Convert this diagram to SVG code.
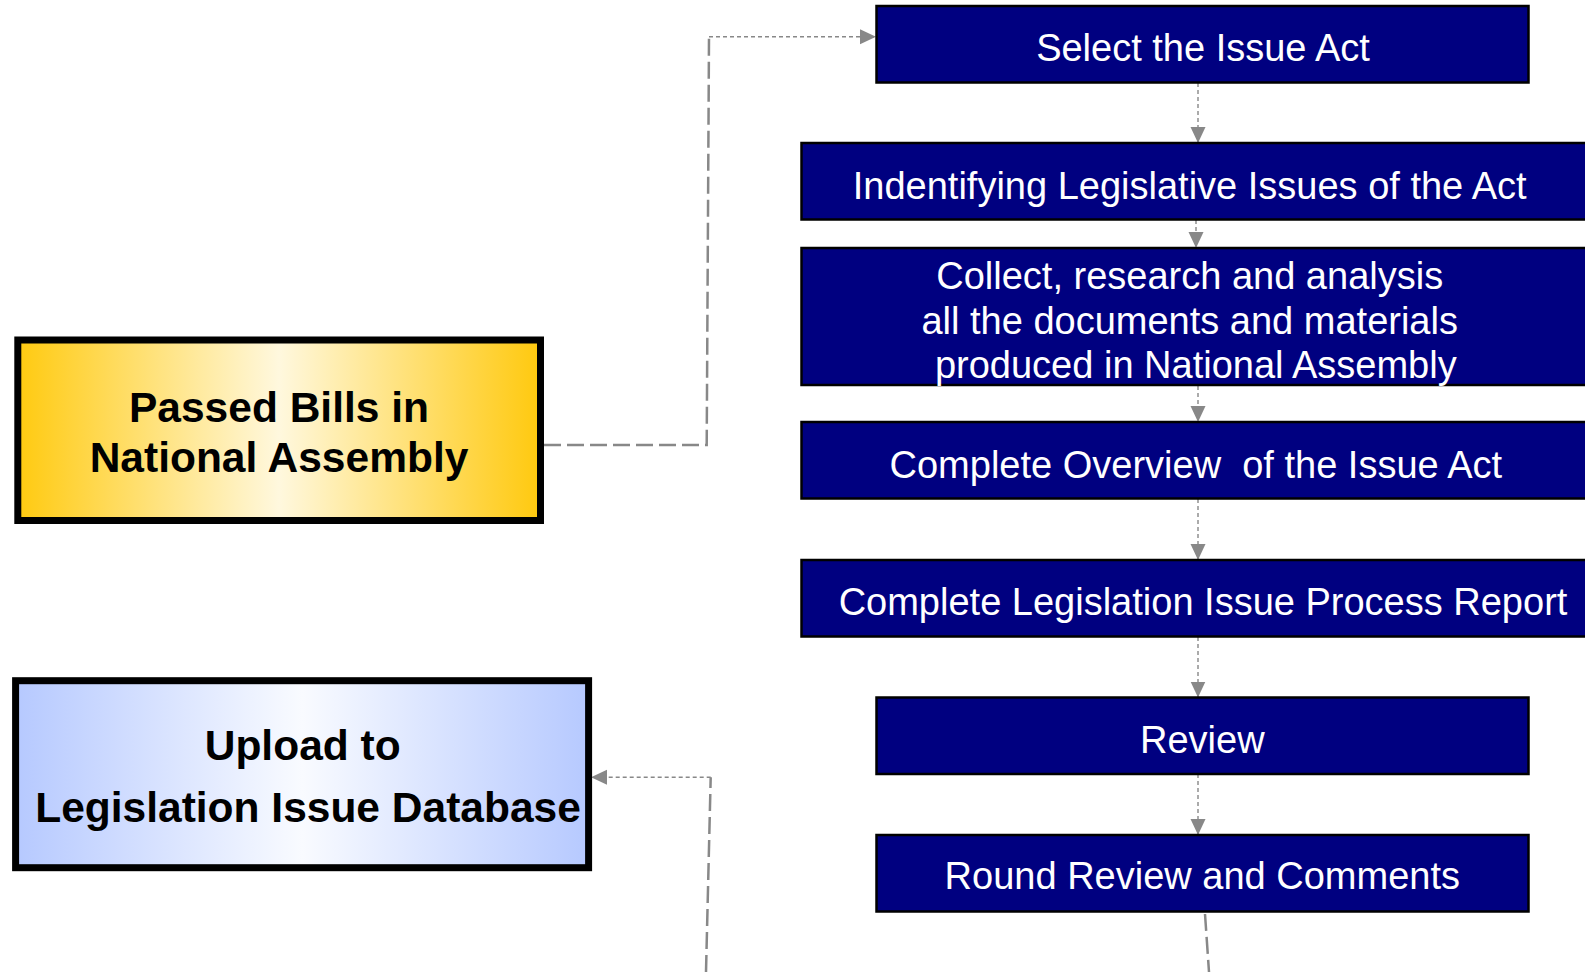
<svg xmlns="http://www.w3.org/2000/svg" width="1585" height="972" viewBox="0 0 1585 972">
<style>
.step{fill:#000080;stroke:#000;stroke-width:2.5}
.st{font-family:"Liberation Sans",Arial,sans-serif;font-size:38px;fill:#fff;text-anchor:middle}
.big{fill:none;stroke:#000;stroke-width:7}
.bt{font-family:"Liberation Sans",Arial,sans-serif;font-size:42.5px;font-weight:bold;fill:#000;text-anchor:middle}
.fine{fill:none;stroke:#888;stroke-width:1.4;stroke-dasharray:4 3}
.long{fill:none;stroke:#888;stroke-width:2.5;stroke-dasharray:17 6}
</style>
<defs>
<linearGradient id="gold" x1="0" y1="0" x2="1" y2="0">
<stop offset="0" stop-color="#FFCA10"/>
<stop offset="0.5" stop-color="#FFF8DE"/>
<stop offset="1" stop-color="#FFC90E"/>
</linearGradient>
<linearGradient id="blue" x1="0" y1="0" x2="1" y2="0">
<stop offset="0" stop-color="#B6C9FF"/>
<stop offset="0.5" stop-color="#F9FBFF"/>
<stop offset="1" stop-color="#B6C9FF"/>
</linearGradient>
<marker id="arr" markerUnits="userSpaceOnUse" markerWidth="17" markerHeight="16" refX="16" refY="7.5" orient="auto">
<path d="M0,0 L16,7.5 L0,15 z" fill="#888"/>
</marker>
</defs>
<rect width="1585" height="972" fill="#fff"/>

<g id="connectors">
<path class="long" d="M544,445 L706.7,445 L709,36.7"/>
<path class="fine" d="M709,36.7 L876,36.7" marker-end="url(#arr)"/>
<line class="fine" x1="1198" y1="83" x2="1198" y2="143" marker-end="url(#arr)"/>
<line class="fine" x1="1196" y1="220" x2="1196" y2="248" marker-end="url(#arr)"/>
<line class="fine" x1="1198" y1="372" x2="1198" y2="422" marker-end="url(#arr)"/>
<line class="fine" x1="1198" y1="499" x2="1198" y2="560" marker-end="url(#arr)"/>
<line class="fine" x1="1198" y1="637" x2="1198" y2="697.5" marker-end="url(#arr)"/>
<line class="fine" x1="1198" y1="774" x2="1198" y2="835" marker-end="url(#arr)"/>
<path class="long" d="M1205,914 L1209,972"/>
<path class="long" d="M706,972 L710.7,777.3"/>
<path class="fine" d="M710.7,777.3 L591,777.3" marker-end="url(#arr)"/>
</g>

<g id="passed-bills">
<rect x="17.8" y="340" width="522.7" height="180.5" fill="url(#gold)"/>
<rect class="big" x="17.8" y="340" width="522.7" height="180.5"/>
<text class="bt" x="279" y="421.5">Passed Bills in</text>
<text class="bt" x="279" y="472">National Assembly</text>
</g>

<g id="upload">
<rect x="15.6" y="680.7" width="573" height="187" fill="url(#blue)"/>
<rect class="big" x="15.6" y="680.7" width="573" height="187"/>
<text class="bt" x="302.7" y="760">Upload to</text>
<text class="bt" x="308" y="821.8">Legislation Issue Database</text>
</g>

<g id="select">
<rect class="step" x="876.5" y="6" width="652" height="76.5"/>
<text class="st" x="1203" y="61">Select the Issue Act</text>
</g>

<g id="identify">
<rect class="step" x="801.5" y="143" width="800" height="76.5"/>
<text class="st" x="1189.7" y="198.6">Indentifying Legislative Issues of the Act</text>
</g>

<g id="collect">
<rect class="step" x="801.5" y="248" width="800" height="137"/>
<text class="st" x="1189.7" y="288.6">Collect, research and analysis</text>
<text class="st" x="1189.7" y="333.6">all the documents and materials</text>
<text class="st" x="1195.8" y="378.3">produced in National Assembly</text>
</g>

<g id="overview">
<rect class="step" x="801.5" y="422" width="800" height="76.5"/>
<text class="st" x="1195.8" y="477.6" xml:space="preserve">Complete Overview  of the Issue Act</text>
</g>

<g id="report">
<rect class="step" x="801.5" y="560" width="800" height="76.5"/>
<text class="st" x="1203" y="615">Complete Legislation Issue Process Report</text>
</g>

<g id="review">
<rect class="step" x="876.5" y="697.5" width="652" height="76.5"/>
<text class="st" x="1202.3" y="752.5">Review</text>
</g>

<g id="round-review">
<rect class="step" x="876.5" y="835" width="652" height="76.5"/>
<text class="st" x="1202.3" y="889">Round Review and Comments</text>
</g>
</svg>
